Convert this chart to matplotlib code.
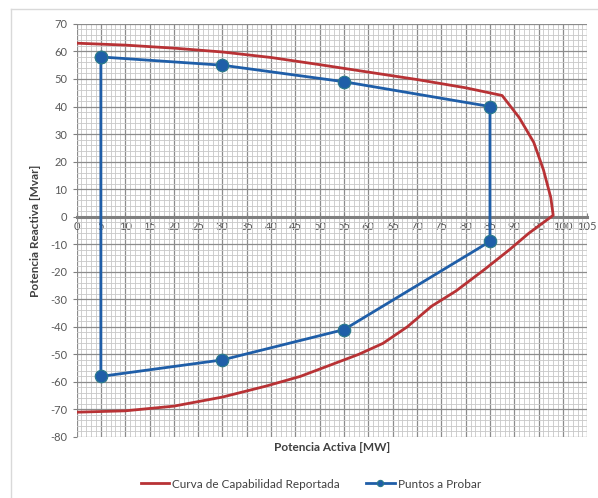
import matplotlib.pyplot as plt
from matplotlib.lines import Line2D
from matplotlib.ticker import MultipleLocator

plt.rcParams['font.family'] = ['Lato', 'DejaVu Sans']
plt.rcParams['axes.unicode_minus'] = False

# Capability curve reported (P in MW, Q in Mvar)
curve_p = [0, 10, 20, 30, 40, 50, 60, 70, 80, 87.5, 91, 94, 96, 97.5, 98,
           93, 89, 84, 78, 73, 68, 63, 58, 52, 46, 39, 30, 20, 10, 0]
curve_q = [63, 62.3, 61.2, 59.8, 57.8, 55.2, 52.5, 49.8, 46.8, 44, 36, 27, 17, 7, 0.5,
           -6, -12, -19, -27, -32.5, -40, -46, -50, -54, -58, -61.5, -65.5, -68.8, -70.5, -71]

# Test points
test_p = [5, 30, 55, 85, 85, 55, 30, 5, 5]
test_q = [58, 55, 49, 40, -9, -41, -52, -58, 58]

x_ticks = list(range(0, 106, 5))
y_ticks = list(range(-80, 71, 10))

fig = plt.figure(figsize=(5.98, 4.98), dpi=100)
ax = fig.add_axes([0.128, 0.1225, 0.854, 0.8295])

# chart frame (partially cropped in the original)
fig.add_artist(Line2D([0.018, 0.018], [0, 0.982], color='#d9d9d9', lw=1))
fig.add_artist(Line2D([0.018, 1], [0.982, 0.982], color='#d9d9d9', lw=1))

ax.plot(curve_p, curve_q, color='#b83235', lw=2, label='Curva de Capabilidad Reportada', zorder=3)
ax.plot(test_p, test_q, color='#1f5ea8', lw=2, marker='o', markersize=9,
        markerfacecolor='#1f5ea8', markeredgecolor='#2a7a8a', markeredgewidth=0.8,
        label='Puntos a Probar', zorder=4)

ax.set_xlim(0, 105)
ax.set_ylim(-80, 70)
ax.set_xticks(x_ticks)
ax.set_yticks(y_ticks)
ax.xaxis.set_minor_locator(MultipleLocator(1))
ax.yaxis.set_minor_locator(MultipleLocator(2))
ax.grid(which='major', color='#8c8c8c', lw=0.9)
ax.grid(which='minor', color='#c8c8c8', lw=0.6)
ax.set_axisbelow(True)

for s in ['top', 'right', 'left']:
    ax.spines[s].set_visible(False)
ax.spines['bottom'].set_position(('data', 0))
ax.spines['bottom'].set_color('#808080')
ax.spines['bottom'].set_linewidth(2.2)
ax.spines['bottom'].set_zorder(2)

ax.tick_params(axis='x', which='major', direction='in', length=3, color='#808080',
               labelsize=8, labelcolor='#595959', pad=3)
ax.tick_params(axis='y', which='major', direction='out', length=3, color='#808080',
               labelsize=8, labelcolor='#595959')
ax.tick_params(which='minor', length=0)

ax.set_ylabel('Potencia Reactiva [Mvar]', fontsize=8.5, fontweight='bold', color='#404040', labelpad=7)
ax.text(0.5, -0.012, 'Potencia Activa [MW]', transform=ax.transAxes, ha='center', va='top',
        fontsize=8.5, fontweight='bold', color='#404040')

fig.legend(loc='center', bbox_to_anchor=(0.52, 0.028), ncol=2, frameon=False, fontsize=8.5,
           handlelength=2.4, handletextpad=0.3, columnspacing=2.2, labelcolor='#404040',
           markerscale=0.5)

fig.savefig('out.png', dpi=100)
